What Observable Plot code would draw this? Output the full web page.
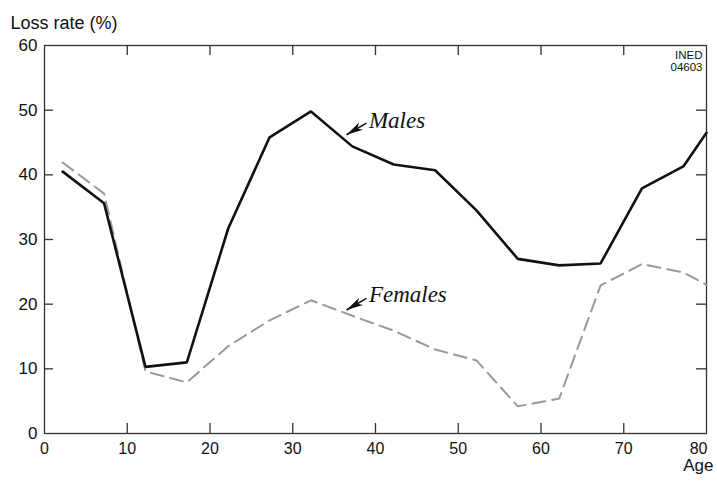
<!DOCTYPE html>
<html><head><meta charset="utf-8">
<script src="https://cdn.jsdelivr.net/npm/d3@7"></script>
<script src="https://cdn.jsdelivr.net/npm/@observablehq/plot@0.6"></script>
<style>body{margin:0;background:#fff} svg{display:block}</style>
</head><body><div id="chart"></div>
<script>
const ages    = [2.2, 7.2, 12.2, 17.2, 22.2, 27.2, 32.2, 37.2, 42.2, 47.2, 52.2, 57.2, 62.2, 67.2, 72.2, 77.2, 80];
const males   = [40.5, 35.6, 10.3, 11.0, 31.7, 45.8, 49.8, 44.4, 41.6, 40.7, 34.5, 27.0, 26.0, 26.3, 37.9, 41.3, 46.5];
const females = [41.9, 37.1, 9.6, 7.9, 13.5, 17.5, 20.6, 18.2, 15.9, 13.0, 11.3, 4.2, 5.4, 22.9, 26.2, 24.9, 23.0];
const xTickLabels = [0, 10, 20, 30, 40, 50, 60, 70];
const xTickLast = [80];
const xTicksInner = [10, 20, 30, 40, 50, 60, 70];
const yTicks = [0, 10, 20, 30, 40, 50, 60];
const yTicksInner = [10, 20, 30, 40, 50];
const seriesNames = ["Males", "Females"];
// annotation labels (data units)
const labelX = [39.2, 39.2];
const labelY = [47.2, 20.3];
const arrowTailX = [38.9, 38.9];
const arrowTailY = [48.0, 20.9];
const arrowTipX = [36.5, 36.5];
const arrowTipY = [46.2, 19.1];

const maleRows = ages.map((a, i) => ({age: a, value: males[i]}));
const femaleRows = ages.map((a, i) => ({age: a, value: females[i]}));
const labels = seriesNames.map((s, i) => ({name: s, x: labelX[i], y: labelY[i]}));
const arrows = seriesNames.map((s, i) => ({x1: arrowTailX[i], y1: arrowTailY[i], x2: arrowTipX[i], y2: arrowTipY[i]}));

function filledArrow(color) {
  const m = d3.create("svg:marker")
    .attr("viewBox", "-17 -4.5 18 9")
    .attr("markerWidth", 18)
    .attr("markerHeight", 9)
    .attr("markerUnits", "userSpaceOnUse")
    .attr("refX", 0).attr("refY", 0)
    .attr("orient", "auto")
    .attr("fill", "#111")
    .attr("stroke", "none");
  m.append("path").attr("d", "M0,0L-17,-4.2L-12.5,0L-17,4.2Z");
  return m.node();
}

const W = 717, H = 481, ML = 44, MR = 11, MT = 45, MB = 48;
const PW = W - ML - MR, PH = H - MT - MB;
const axisColor = "#333";
const sans = "'Liberation Sans', Arial, Helvetica, sans-serif";

const chart = Plot.plot({
  width: W,
  height: H,
  marginLeft: ML,
  marginRight: MR,
  marginTop: MT,
  marginBottom: MB,
  axis: null,
  style: {fontFamily: sans, fontSize: "16px", background: "#fff", color: "#111"},
  x: {domain: [0, 80], label: null},
  y: {domain: [0, 60], label: null},
  marks: [
    Plot.frame({stroke: axisColor, strokeWidth: 1.3}),
    // inward ticks
    Plot.tickY(yTicksInner, {y: d => d, insetRight: PW - 9, stroke: axisColor, strokeWidth: 1.3}),
    Plot.tickY(yTicksInner, {y: d => d, insetLeft: PW - 10, stroke: axisColor, strokeWidth: 1.3}),
    Plot.tickX(xTicksInner, {x: d => d, insetTop: PH - 10, stroke: axisColor, strokeWidth: 1.3}),
    Plot.tickX(xTicksInner, {x: d => d, insetBottom: PH - 10, stroke: axisColor, strokeWidth: 1.3}),
    // tick labels
    Plot.text(yTicks, {y: d => d, text: d => String(d), frameAnchor: "left", textAnchor: "end", dx: -7, fontSize: 17, fill: "#111"}),
    Plot.text(xTickLabels, {x: d => d, text: d => String(d), frameAnchor: "bottom", lineAnchor: "top", dy: 9, fontSize: 16, fill: "#111"}),
    Plot.text(xTickLast, {x: d => d, text: d => String(d), frameAnchor: "bottom", lineAnchor: "top", textAnchor: "end", dy: 9, dx: 1, fontSize: 16, fill: "#111"}),
    // data
    Plot.line(femaleRows, {x: "age", y: "value", stroke: "#999", strokeWidth: 2, strokeDasharray: "13,7", strokeLinejoin: "miter"}),
    Plot.line(maleRows, {x: "age", y: "value", stroke: "#111", strokeWidth: 2.6, strokeLinejoin: "miter"}),
    // annotations
    Plot.link(arrows, {x1: "x1", y1: "y1", x2: "x2", y2: "y2", stroke: "#111", strokeWidth: 1.5, markerEnd: filledArrow}),
    Plot.text(labels, {x: "x", y: "y", text: "name", textAnchor: "start", lineAnchor: "bottom", fontFamily: "'Liberation Serif', 'Times New Roman', serif", fontStyle: "italic", fontSize: 23, fill: "#111"}),
    Plot.text(["Loss rate (%)"], {frameAnchor: "top-left", text: d => d, textAnchor: "start", lineAnchor: "bottom", dx: -34, dy: -17, fontSize: 18, fill: "#111"}),
    Plot.text(["INED\n04603"], {frameAnchor: "top-right", text: d => d, textAnchor: "end", lineAnchor: "top", dx: -4, dy: 5, fontSize: 11.5, lineHeight: 1.02, fill: "#111"}),
    Plot.text(["Age"], {frameAnchor: "bottom-right", text: d => d, textAnchor: "end", lineAnchor: "bottom", dx: 7, dy: 37, fontSize: 17, fill: "#111"})
  ]
});
document.getElementById("chart").appendChild(chart);
</script>
</body></html>
